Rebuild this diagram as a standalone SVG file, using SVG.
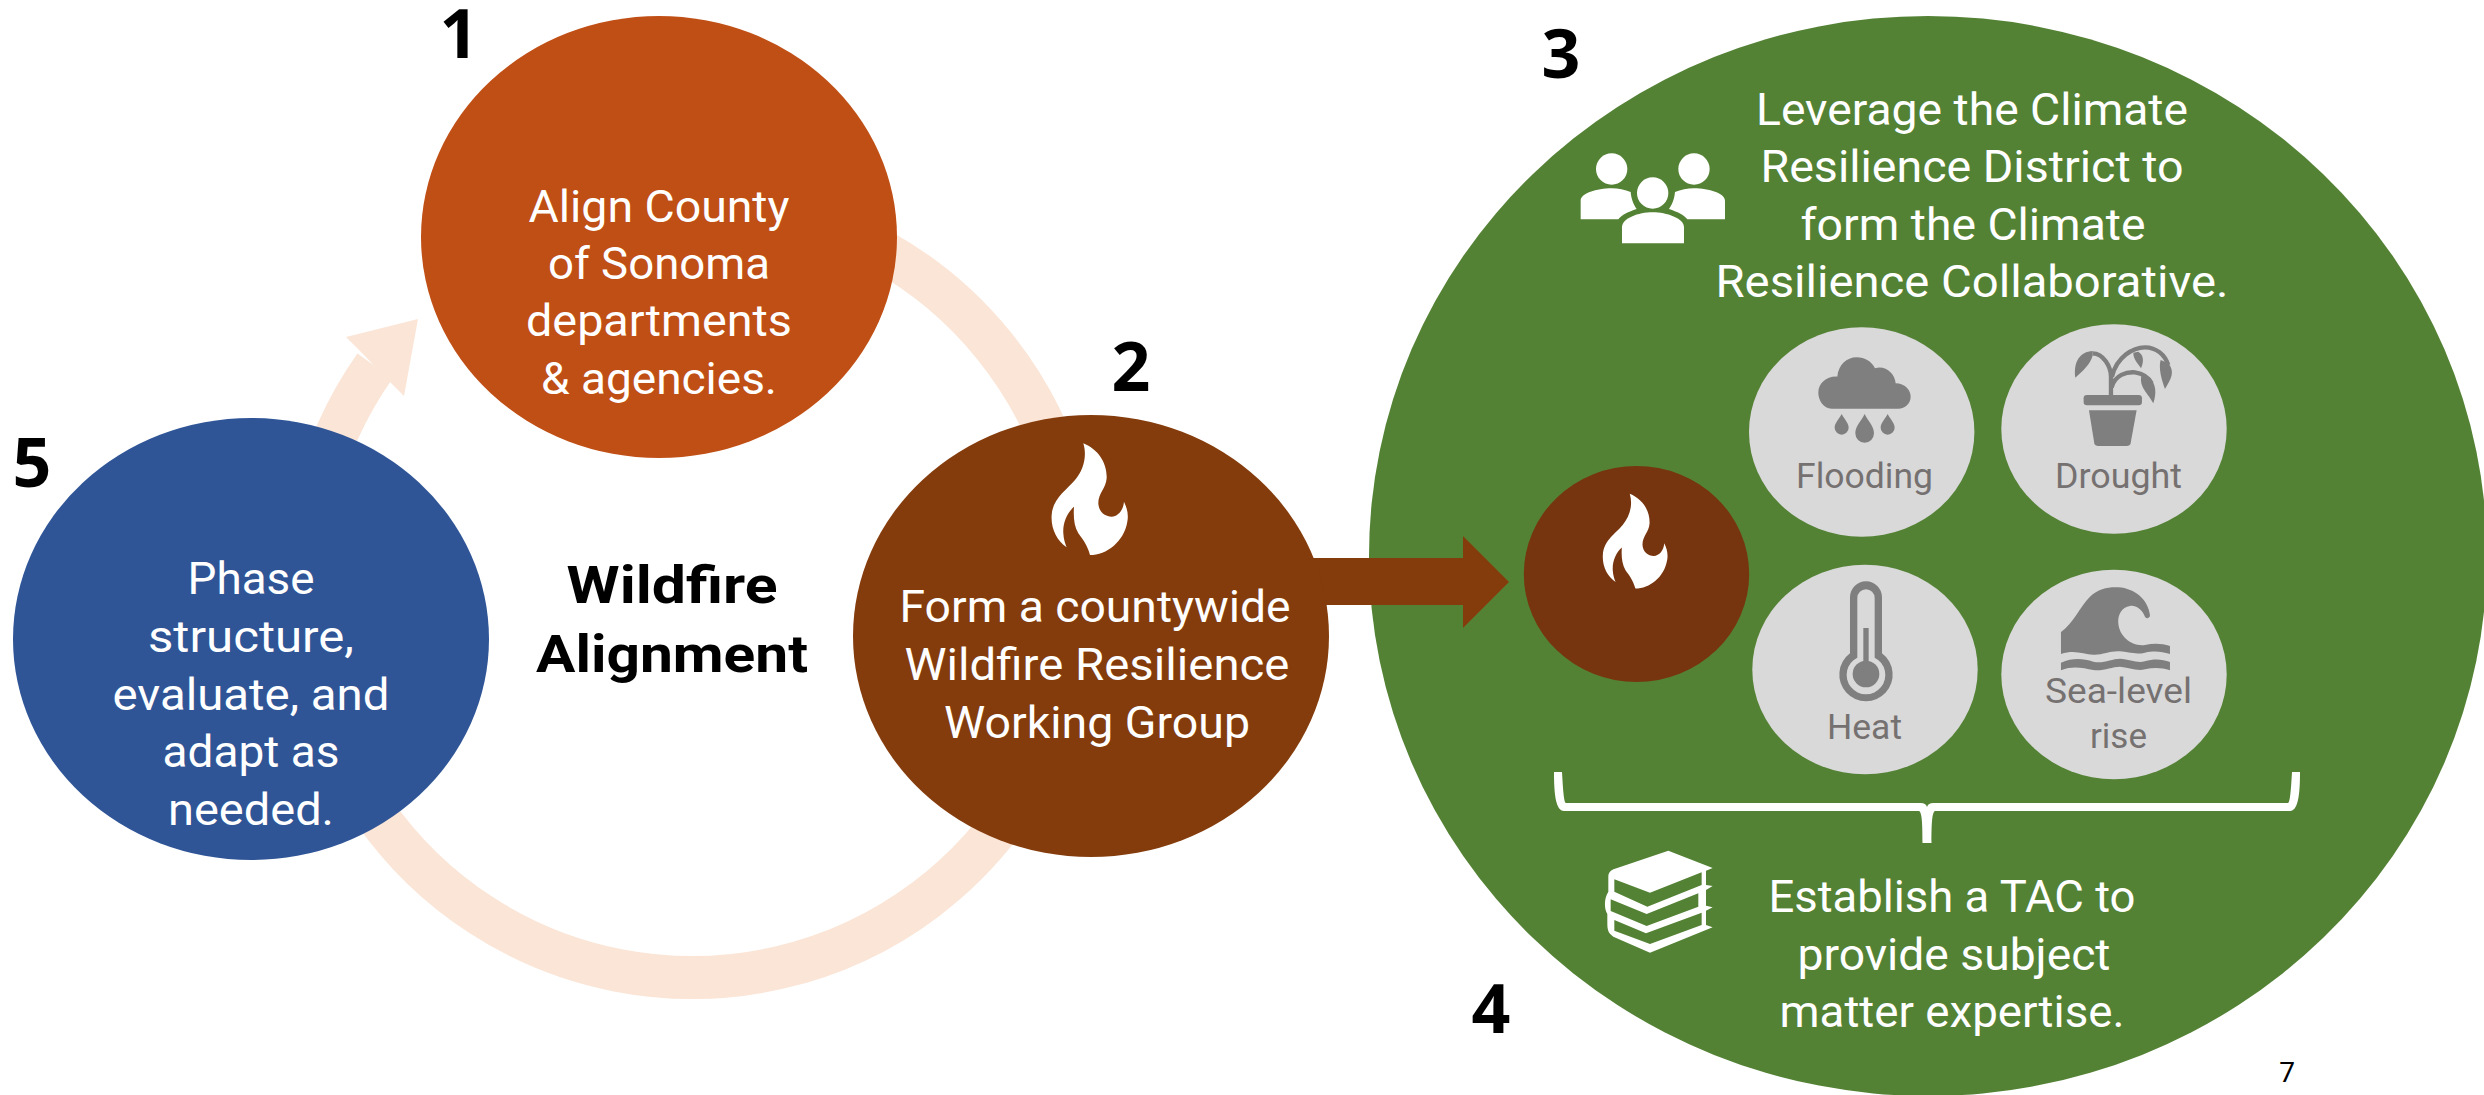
<svg xmlns="http://www.w3.org/2000/svg" xmlns:xlink="http://www.w3.org/1999/xlink" width="2484" height="1095" viewBox="0 0 2484 1095">
<style>
text{font-family:Roboto,"Liberation Sans",sans-serif;text-anchor:middle}
.w{fill:#fff;font-size:44px}
.g{fill:#767171;font-size:35px}
.n{fill:#000;font-size:68px;font-weight:700;font-family:"Open Sans",Roboto,sans-serif}
.b{fill:#000;font-size:52px;font-weight:700}
.i{fill:#7f7f7f}
.f{fill:#fff}
.chip{fill:#d9d9d9}
</style>
<defs>
<path id="flame" d="M250 70C295 88 322 130 320 175C318 205 295 220 295 250C296 275 315 290 335 290C355 289 370 270 372 245C382 265 386 285 382 305C372 365 320 405 270 405C262 375 248 358 235 340C222 318 220 290 222 260C200 280 188 310 190 340C191 358 195 370 200 382C170 362 152 325 155 285C158 235 200 210 225 180C250 150 262 110 250 70Z"/>
</defs>
<rect width="2484" height="1095" fill="#fff"/>
<g id="ring-connector">
<path d="M880 250A388 388 0 1 1 375 366" fill="none" stroke="#fbe5d6" stroke-width="43"/>
<path d="M362 353L346 337L418 319L404 396L388 380Z" fill="#fbe5d6"/>
</g>
<g id="node-1">
<ellipse cx="659" cy="237" rx="238" ry="221" fill="#c04f15"/>
<text class="w" x="659" y="222" textLength="261" lengthAdjust="spacingAndGlyphs">Align County</text>
<text class="w" x="659" y="279" textLength="222" lengthAdjust="spacingAndGlyphs">of Sonoma</text>
<text class="w" x="659" y="336" textLength="266" lengthAdjust="spacingAndGlyphs">departments</text>
<text class="w" x="659" y="394" textLength="236" lengthAdjust="spacingAndGlyphs">&amp; agencies.</text>
<text class="n" x="459" y="58">1</text>
</g>
<g id="node-3">
<ellipse cx="1928" cy="556" rx="559" ry="540" fill="#548235"/>
<text class="w" x="1972" y="125" textLength="432" lengthAdjust="spacingAndGlyphs">Leverage the Climate</text>
<text class="w" x="1972" y="182" textLength="423" lengthAdjust="spacingAndGlyphs">Resilience District to</text>
<text class="w" x="1973" y="240" textLength="345" lengthAdjust="spacingAndGlyphs">form the Climate</text>
<text class="w" x="1972" y="297" textLength="513" lengthAdjust="spacingAndGlyphs">Resilience Collaborative.</text>
<g class="f" transform="translate(1560 140) scale(.3333)">
<circle cx="155" cy="87" r="47"/><circle cx="402" cy="87" r="47"/><circle cx="278" cy="159" r="47"/>
<path d="M186 310V262C186 235 235 217 278 217C320 217 372 235 372 262V310Z"/>
<path d="M62 238V182C62 160 110 145 155 145C175 145 195 150 212 156C214 180 222 195 230 207C205 215 185 225 175 238Z"/>
<path d="M495 238V182C495 160 447 145 402 145C382 145 362 150 345 156C343 180 335 195 327 207C352 215 372 225 382 238Z"/>
</g>
<text class="n" x="1561" y="78">3</text>
</g>
<g id="arrow-connector">
<path d="M1300 558H1463V536L1509 582L1463 628V605H1300Z" fill="#843c0c"/>
</g>
<g id="node-2">
<ellipse cx="1091" cy="636" rx="238" ry="221" fill="#843c0c"/>
<use xlink:href="#flame" href="#flame" class="f" transform="translate(1000 420) scale(.3333)"/>
<text class="w" x="1095" y="622" textLength="391" lengthAdjust="spacingAndGlyphs">Form a countywide</text>
<text class="w" x="1097" y="680" textLength="385" lengthAdjust="spacingAndGlyphs">Wildfire Resilience</text>
<text class="w" x="1097" y="738" textLength="306" lengthAdjust="spacingAndGlyphs">Working Group</text>
<text class="n" x="1131" y="391">2</text>
</g>
<g id="node-5">
<ellipse cx="251" cy="639" rx="238" ry="221" fill="#2f5597"/>
<text class="w" x="251" y="594" textLength="127" lengthAdjust="spacingAndGlyphs">Phase</text>
<text class="w" x="251" y="652" textLength="206" lengthAdjust="spacingAndGlyphs">structure,</text>
<text class="w" x="251" y="710" textLength="277" lengthAdjust="spacingAndGlyphs">evaluate, and</text>
<text class="w" x="251" y="767" textLength="177" lengthAdjust="spacingAndGlyphs">adapt as</text>
<text class="w" x="251" y="825" textLength="166" lengthAdjust="spacingAndGlyphs">needed.</text>
<text class="n" x="32" y="487">5</text>
</g>
<g id="center-label">
<text class="b" x="672" y="603" textLength="211" lengthAdjust="spacingAndGlyphs">Wildfire</text>
<text class="b" x="672" y="672" textLength="272" lengthAdjust="spacingAndGlyphs">Alignment</text>
</g>
<g id="node-wildfire">
<ellipse cx="1636.5" cy="574" rx="112.7" ry="108" fill="#76350e"/>
<use xlink:href="#flame" href="#flame" class="f" transform="translate(1559 474) scale(.283)"/>
</g>
<g id="node-flooding">
<ellipse class="chip" cx="1861.7" cy="432" rx="112.7" ry="104.7"/>
<g class="i" transform="translate(1740 340) scale(.3333)">
<path d="M275 206C250 206 235 180 235 158C235 130 260 108 292 110C295 75 320 52 350 52C375 52 395 65 405 85C435 75 465 100 467 130C495 130 512 150 512 170C512 190 495 206 475 206Z"/>
<path d="M305 222C315 240 326 250 326 263A21 21 0 0 1 284 263C284 250 295 240 305 222Z"/>
<path d="M374 222C385 245 402 258 402 280A28 28 0 0 1 346 280C346 258 363 245 374 222Z"/>
<path d="M443 222C453 240 464 250 464 263A21 21 0 0 1 422 263C422 250 433 240 443 222Z"/>
</g>
<text class="g" x="1864.5" y="488" textLength="137" lengthAdjust="spacingAndGlyphs">Flooding</text>
</g>
<g id="node-drought">
<ellipse class="chip" cx="2114" cy="429" rx="112.7" ry="104.7"/>
<g class="i" transform="translate(1740 340) scale(.3333)">
<rect x="1031" y="165" width="175" height="31" rx="10"/>
<path d="M1047 211H1190L1172 310Q1170 318 1160 318H1075Q1065 318 1063 310Z"/>
<path d="M1113 165V110C1113 80 1090 40 1058 40M1116 110C1130 50 1180 22 1215 22C1250 22 1275 45 1285 75M1115 142C1125 105 1160 95 1185 97C1205 100 1225 110 1235 130" fill="none" stroke="#7f7f7f" stroke-width="13"/>
<path d="M1058 33C1020 35 1000 65 1006 113C1030 90 1050 75 1058 47Z"/>
<path d="M1262 60C1255 85 1265 120 1275 147C1295 115 1305 95 1285 70Z"/>
<path d="M1180 38C1180 60 1195 70 1203 85C1212 65 1212 45 1195 35Z"/>
<path d="M1205 105C1195 140 1225 160 1240 190C1250 160 1250 130 1225 110Z"/>
</g>
<text class="g" x="2118.5" y="488" textLength="127" lengthAdjust="spacingAndGlyphs">Drought</text>
</g>
<g id="node-heat">
<ellipse class="chip" cx="1865" cy="669.5" rx="112.7" ry="104.7"/>
<g transform="translate(1740 560) scale(.3333)">
<path class="i" d="M330 112A48 48 0 0 1 426 112V280A80 80 0 1 1 330 280Z"/>
<path class="chip" d="M352 114A26 26 0 0 1 404 114V293A58 58 0 1 1 352 293Z"/>
<circle class="i" cx="378" cy="342" r="40"/>
<rect class="i" x="370" y="204" width="16" height="136"/>
</g>
<text class="g" x="1864.5" y="739" textLength="75" lengthAdjust="spacingAndGlyphs">Heat</text>
</g>
<g id="node-sealevel">
<ellipse class="chip" cx="2114" cy="674.5" rx="112.7" ry="104.7"/>
<g class="i" transform="translate(1740 560) scale(.3333)">
<path d="M963 216C1000 190 1020 140 1050 110C1075 85 1110 80 1135 82C1185 85 1225 120 1230 165A8 8 0 0 1 1215 170C1205 145 1185 135 1170 138C1145 142 1133 165 1135 190C1138 230 1175 260 1215 255C1240 250 1265 250 1290 258V282C1265 275 1245 272 1215 278C1185 285 1165 275 1140 274C1110 272 1090 285 1060 284C1030 283 1005 268 963 282Z"/>
<path d="M963 308C1000 292 1030 296 1060 305C1090 312 1115 296 1140 296C1170 298 1190 310 1215 304C1240 296 1265 296 1290 306V331C1265 322 1240 322 1215 328C1190 334 1165 322 1140 320C1115 320 1090 334 1060 330C1030 325 1000 316 963 331Z"/>
</g>
<text class="g" x="2118.5" y="703" textLength="147" lengthAdjust="spacingAndGlyphs">Sea-level</text>
<text class="g" x="2118.5" y="748" textLength="57" lengthAdjust="spacingAndGlyphs">rise</text>
</g>
<g id="node-4">
<path class="f" d="M1554 772H1562C1563 790 1564 803 1566 803H1921C1924 803 1926 804 1927 807C1928 804 1930 803 1933 803H2288C2290 803 2291 790 2292 772H2300C2300 795 2298 811 2290 811H1935C1932 812 1931.5 825 1931.5 843H1922.5C1922.5 825 1922 812 1919 811H1564C1556 811 1554 795 1554 772Z"/>
<g transform="translate(1590 840) scale(.3333)">
<path class="f" d="M235 32L368 84L348 92V135L368 138L348 150V197L368 202L348 212V255L368 262L180 338L70 290C55 280 52 270 52 250V222C42 205 42 175 55 155V110C55 98 62 90 75 86Z"/>
<path fill="#548235" d="M73 118L180 158L335 97V135L172 200L73 155Z"/>
<path fill="#548235" d="M62 178L170 222L325 160V200L170 258L62 213Z"/>
<path fill="#548235" d="M73 240L168 280L335 218V255L180 312L73 272Z"/>
</g>
<text class="w" x="1952" y="912" textLength="367" lengthAdjust="spacingAndGlyphs">Establish a TAC to</text>
<text class="w" x="1954" y="970" textLength="313" lengthAdjust="spacingAndGlyphs">provide subject</text>
<text class="w" x="1952" y="1027" textLength="345" lengthAdjust="spacingAndGlyphs">matter expertise.</text>
<text class="n" x="1491" y="1033">4</text>
</g>
<text x="2287" y="1082" style="font-size:28px;fill:#000">7</text>
</svg>
